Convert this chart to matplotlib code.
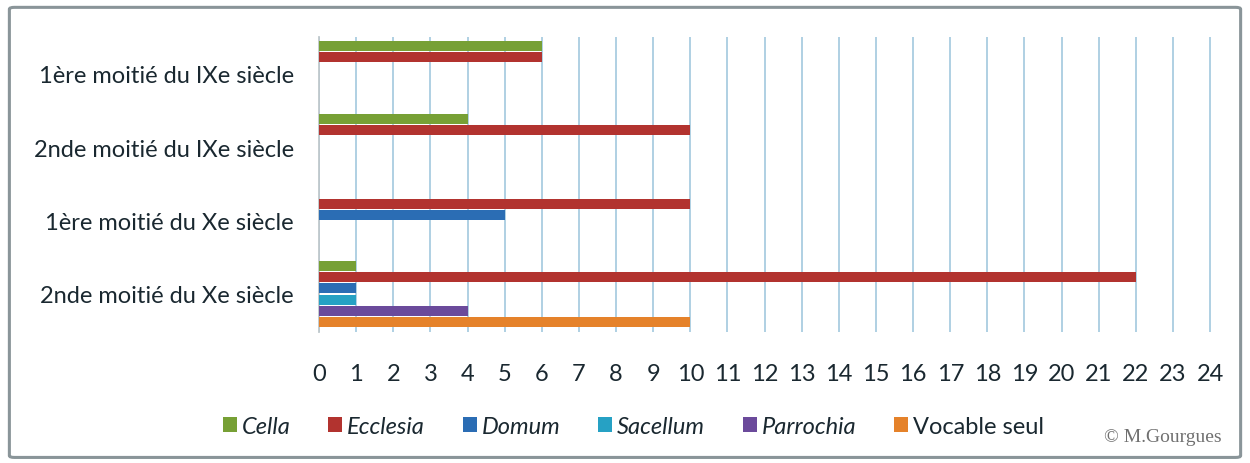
import matplotlib.pyplot as plt
import matplotlib.patches as mpatches
import numpy as np

periodes = ["1ère moitié du IXe siècle", "2nde moitié du IXe siècle",
            "1ère moitié du Xe siècle", "2nde moitié du Xe siècle"]
series = ["Cella", "Ecclesia", "Domum", "Sacellum", "Parrochia", "Vocable seul"]
cella = [6, 4, 0, 1]
ecclesia = [6, 10, 10, 22]
domum = [0, 0, 5, 1]
sacellum = [0, 0, 0, 1]
parrochia = [0, 0, 0, 4]
vocable = [0, 0, 0, 10]
x_ticks = list(range(0, 25))

couleurs = ["#77A035", "#B2332F", "#2B6DB4", "#26A1C4", "#6B4A9B", "#E5822A"]
texte = "#1A2830"

plt.rcParams["font.family"] = ["Lato", "DejaVu Sans"]

fig = plt.figure(figsize=(12.5, 4.64), dpi=100)
ax = fig.add_axes([0.2552, 0.282, 0.9696 - 0.2552, 0.918 - 0.282])

valeurs = [cella, ecclesia, domum, sacellum, parrochia, vocable]
y = np.arange(len(periodes))
pas = 0.153
for i, (nom, vals) in enumerate(zip(series, valeurs)):
    ax.barh(y + (i - 2.5) * pas, vals, height=0.135, color=couleurs[i],
            label=nom, zorder=3)

ax.set_ylim(3.52, -0.5)
ax.set_xlim(0, 24.05)
ax.set_xticks(x_ticks)
ax.set_xticklabels([str(t) for t in x_ticks])
ax.set_yticks(y)
ax.set_yticklabels(periodes)
ax.tick_params(axis="both", length=0, labelsize=17, colors=texte)
ax.tick_params(axis="x", pad=22)
ax.tick_params(axis="y", pad=18)
ax.grid(axis="x", color="#A9CDE0", linewidth=1.3, zorder=0)
for s in ["top", "right", "bottom"]:
    ax.spines[s].set_visible(False)
ax.spines["left"].set_color("#BFC8CC")
ax.spines["left"].set_linewidth(1.3)

leg = ax.legend(loc="center", bbox_to_anchor=(0.352, -0.32), ncol=6,
                frameon=False, fontsize=17, handlelength=0.6, handleheight=0.6,
                handletextpad=0.2, columnspacing=1.6, labelcolor=texte)
for t in leg.get_texts()[:5]:
    t.set_style("italic")

fig.text(0.977, 0.058, "© M.Gourgues", family="Liberation Serif",
         fontsize=14, color="#707070", ha="right", va="center")

cadre = mpatches.FancyBboxPatch((0.0075, 0.012), 0.985, 0.97,
                                boxstyle="round,pad=0,rounding_size=0.004",
                                transform=fig.transFigure, fill=False,
                                edgecolor="#8A9599", linewidth=2.2)
fig.patches.append(cadre)

fig.savefig("out.png", dpi=100)
